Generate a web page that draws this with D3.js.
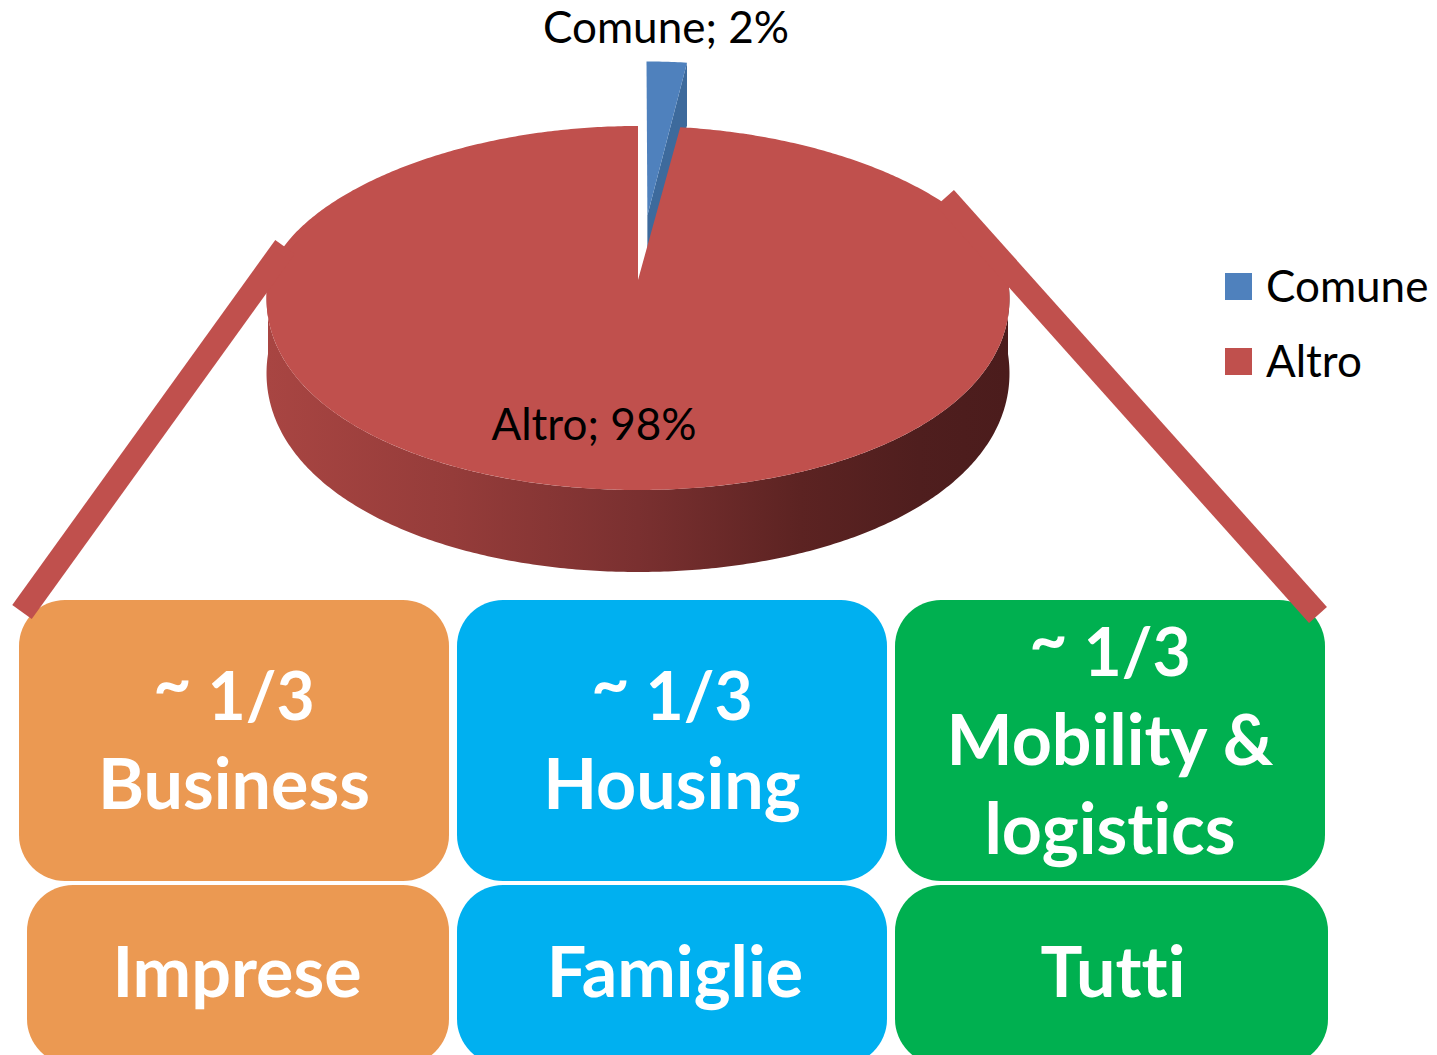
<!DOCTYPE html>
<html>
<head>
<meta charset="utf-8">
<script src="https://cdn.jsdelivr.net/npm/d3@7"></script>
<style>
  body { margin: 0; background: #fff; }
  svg { display: block; }
  text { font-variant-ligatures: none; font-feature-settings: "liga" 0, "clig" 0; }
</style>
</head>
<body>
<svg id="chart"></svg>
<script>
// pie data
var categories = ["Comune", "Altro"];
var values = [2, 98];
var sliceColors = ["#4F81BD", "#C0504D"];

// boxes below the pie
var topLabels = [["~ 1/3", "Business"], ["~ 1/3", "Housing"], ["~ 1/3", "Mobility &", "logistics"]];
var bottomLabels = ["Imprese", "Famiglie", "Tutti"];
var boxColors = ["#EB9952", "#00B0F0", "#00B050"];

var width = 1437, height = 1055;
var svg = d3.select("#chart").attr("width", width).attr("height", height);

// 3d pie geometry (two half ellipses + a bit of x narrowing at the back to fake perspective)
var cx = 638, cy = 280, rx = 370, ryTop = 154, ryBot = 210;
function dep(v) { return 74 + 8 * v; }
function proj(a, r, ox, oy, down) {
  var u = ox + r * Math.sin(a), v = oy - r * Math.cos(a);
  return [cx + rx * u * (1 + 0.09 * v), cy + (v < 0 ? ryTop : ryBot) * v + (down ? dep(v) : 0)];
}
function rim(a0, a1, ox, oy, down) {
  var n = Math.max(2, Math.ceil(Math.abs(a1 - a0) / 0.01));
  return d3.range(n + 1).map(function(i) {
    return proj(a0 + (a1 - a0) * i / n, 1, ox, oy, down);
  });
}
var line = d3.line();

var pie = d3.pie().sort(null).value(function(d) { return d; });
var arcs = pie(values);

var defs = svg.append("defs");
var grad = defs.append("linearGradient").attr("id", "side")
    .attr("gradientUnits", "userSpaceOnUse")
    .attr("x1", cx - rx).attr("x2", cx + rx).attr("y1", 0).attr("y2", 0);
[[0, "#a84542"], [0.25, "#953c3a"], [0.5, "#7a3030"], [0.72, "#5c2322"], [0.88, "#4f1e1e"], [1, "#4b1c1c"]]
  .forEach(function(s) { grad.append("stop").attr("offset", s[0]).attr("stop-color", s[1]); });

// Comune slice, exploded upward
var c = arcs[0];
var mid = (c.startAngle + c.endAngle) / 2, ex = 0.42;
var ox = ex * Math.sin(mid), oy = -ex * Math.cos(mid);
var apexTop = proj(0, 0, ox, oy, false), apexBot = proj(0, 0, ox, oy, true);
var side = [apexTop, proj(c.endAngle, 1, ox, oy, false), proj(c.endAngle, 1, ox, oy, true), apexBot];
svg.append("path").attr("d", line(side) + "Z").attr("fill", "#3D6A9C");
svg.append("path")
    .attr("d", line([apexTop].concat(rim(c.startAngle, c.endAngle, ox, oy, false))) + "Z")
    .attr("fill", sliceColors[0]);

// Altro slice
var r = arcs[1];
var wallTop = rim(Math.PI / 2, 3 * Math.PI / 2, 0, 0, false);
var wallBot = rim(3 * Math.PI / 2, Math.PI / 2, 0, 0, true);
svg.append("path").attr("d", line(wallTop.concat(wallBot)) + "Z").attr("fill", "url(#side)");
svg.append("path")
    .attr("d", line([proj(0, 0, 0, 0, false)].concat(rim(r.startAngle, r.endAngle, 0, 0, false))) + "Z")
    .attr("fill", sliceColors[1]);

// data labels
svg.append("text").attr("x", 666).attr("y", 43).attr("text-anchor", "middle")
    .attr("font-family", "Lato").attr("font-size", 44).attr("fill", "#000")
    .text(categories[0] + "; " + values[0] + "%");
svg.append("text").attr("x", 594).attr("y", 440).attr("text-anchor", "middle")
    .attr("font-family", "Lato").attr("font-size", 44).attr("fill", "#000")
    .text(categories[1] + "; " + values[1] + "%");

// legend
var legend = svg.append("g").attr("transform", "translate(1225,273)");
categories.forEach(function(name, i) {
  var g = legend.append("g").attr("transform", "translate(0," + (i * 75) + ")");
  g.append("rect").attr("width", 27).attr("height", 27).attr("fill", sliceColors[i]);
  g.append("text").attr("x", 41).attr("y", 29).attr("font-family", "Lato").attr("font-size", 44)
      .attr("fill", "#000").text(name);
});

// boxes
var xBand = d3.scaleBand().domain(d3.range(3)).range([19, 1325]).paddingInner(8 / 438);
var boxes = svg.append("g");
topLabels.forEach(function(lines, i) {
  var x = xBand(i), w = xBand.bandwidth();
  boxes.append("rect").attr("x", x).attr("y", 600).attr("width", w).attr("height", 281)
      .attr("rx", 46).attr("fill", boxColors[i]);
  boxes.append("rect").attr("x", x + (i == 0 ? 8 : 0)).attr("y", 885).attr("width", w - (i == 0 ? 8 : 0) + (i == 2 ? 3 : 0))
      .attr("height", 180).attr("rx", 46).attr("fill", boxColors[i]);

  var y0 = lines.length == 3 ? 676 : 720;
  lines.forEach(function(t, j) {
    var txt = boxes.append("text").attr("x", x + w / 2).attr("y", y0 + j * 89)
        .attr("text-anchor", "middle").attr("font-family", "Lato").attr("font-weight", "bold")
        .attr("fill", "#fff");
    if (t.charAt(0) == "~") {
      txt.attr("font-size", 66);
      txt.append("tspan").attr("dy", -13).text("~");
      txt.append("tspan").attr("dy", 13).text(t.slice(1));
    } else {
      txt.attr("font-size", 70).text(t);
    }
  });
  boxes.append("text").attr("x", x + w / 2 + 3).attr("y", 997)
      .attr("text-anchor", "middle").attr("font-family", "Lato").attr("font-weight", "bold")
      .attr("font-size", 70).attr("fill", "#fff").text(bottomLabels[i]);
});

// connector bars from pie to boxes
var bars = [[[285, 247], [22, 612]], [[945, 198], [1318, 615]]];
bars.forEach(function(b) {
  svg.append("path").attr("d", line(b)).attr("stroke", "#C0504D").attr("stroke-width", 24)
      .attr("fill", "none");
});
</script>
</body>
</html>
